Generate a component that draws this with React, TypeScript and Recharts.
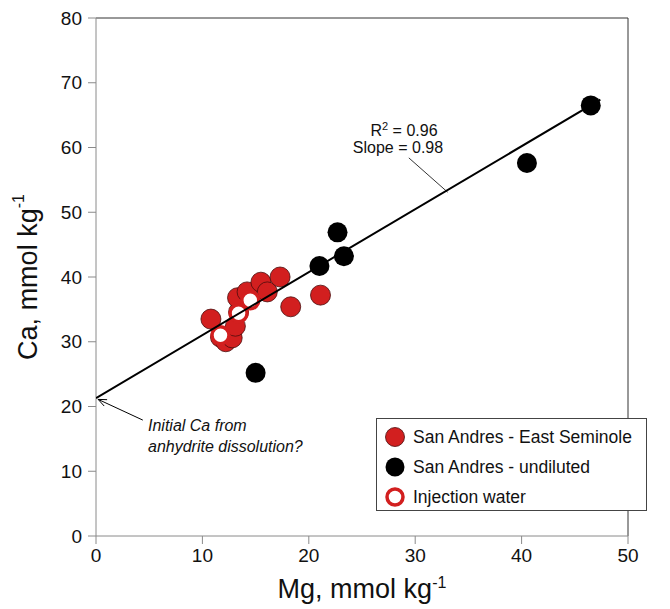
import React from 'react';
import { ScatterChart, Scatter, XAxis, YAxis, ReferenceLine } from 'recharts';

// Mg / Ca, mmol kg-1
const eastSeminoleMg = [10.8, 11.7, 12.2, 12.8, 13.1, 13.4, 13.3, 14.2, 15.5, 16.1, 17.3, 18.3, 21.1];
const eastSeminoleCa = [33.5, 30.7, 30.0, 30.6, 32.4, 34.6, 36.8, 37.7, 39.2, 37.7, 40.0, 35.4, 37.2];

const undilutedMg = [46.5, 40.5, 22.7, 23.3, 21.0, 15.0];
const undilutedCa = [66.5, 57.6, 46.9, 43.2, 41.7, 25.2];

const injectionMg = [11.7, 13.4, 14.5];
const injectionCa = [31.0, 34.4, 36.4];

const fitMg = [0, 47.4];
const fitCa = [21.3, 67.4];

const xTicks = [0, 10, 20, 30, 40, 50];
const yTicks = [0, 10, 20, 30, 40, 50, 60, 70, 80];

const legendLabels = ['San Andres - East Seminole', 'San Andres - undiluted', 'Injection water'];

const zip = (xs: number[], ys: number[]) => xs.map((x, i) => ({ x, y: ys[i] }));

const eastSeminole = zip(eastSeminoleMg, eastSeminoleCa);
const undiluted = zip(undilutedMg, undilutedCa);
const injection = zip(injectionMg, injectionCa);
const fit = zip(fitMg, fitCa);

const RED = '#d21f1f';
const FONT = '"Liberation Sans", Arial, sans-serif';

const redDot = (p: any) => <circle cx={p.cx} cy={p.cy} r={10} fill={RED} stroke="#4a0c0c" strokeWidth={0.8} />;
const blackDot = (p: any) => <circle cx={p.cx} cy={p.cy} r={10} fill="#000" />;
const ringDot = (p: any) => <circle cx={p.cx} cy={p.cy} r={8.5} fill="#fff" stroke={RED} strokeWidth={3.5} />;
const noDot = () => <g />;

const arrowShape = (p: any) => {
  const { x1, y1, x2, y2 } = p;
  const a = Math.atan2(y2 - y1, x2 - x1);
  const L = 9;
  const s = 0.4;
  return (
    <g>
      <line x1={x1} y1={y1} x2={x2} y2={y2} stroke="#000" strokeWidth={1} />
      <polyline
        points={`${x2 - L * Math.cos(a - s)},${y2 - L * Math.sin(a - s)} ${x2},${y2} ${x2 - L * Math.cos(a + s)},${y2 - L * Math.sin(a + s)}`}
        fill="none"
        stroke="#000"
        strokeWidth={1}
      />
    </g>
  );
};

const yLabel = (p: any) => {
  const { viewBox } = p;
  const cx = 28;
  const cy = viewBox.y + viewBox.height / 2;
  return (
    <text x={cx} y={cy} transform={`rotate(-90 ${cx} ${cy})`} textAnchor="middle" dominantBaseline="central" fontSize={27} fill="#111" fontFamily={FONT}>
      Ca, mmol kg<tspan dy={-10} fontSize={16}>-1</tspan>
    </text>
  );
};

const xLabel = (p: any) => {
  const { viewBox } = p;
  const cx = viewBox.x + viewBox.width / 2;
  return (
    <text x={cx} y={598} textAnchor="middle" fontSize={27} fill="#111" fontFamily={FONT}>
      Mg, mmol kg<tspan dy={-10} fontSize={16}>-1</tspan>
    </text>
  );
};

const tickStyle = { fontSize: 19, fill: '#111', fontFamily: FONT };

export default function App() {
  return (
    <div style={{ position: 'absolute', left: 0, top: 0, width: 670, height: 609, background: '#fff', fontFamily: FONT }}>
      <ScatterChart width={670} height={609} margin={{ top: 18, right: 42, bottom: 13, left: 36 }}>
        <XAxis
          type="number"
          dataKey="x"
          domain={[0, 50]}
          ticks={xTicks}
          allowDataOverflow
          height={60}
          tickSize={8}
          tickMargin={5}
          tick={tickStyle}
          axisLine={{ stroke: '#8a8a8a' }}
          tickLine={{ stroke: '#8a8a8a' }}
          label={xLabel}
        />
        <YAxis
          type="number"
          dataKey="y"
          domain={[0, 80]}
          ticks={yTicks}
          allowDataOverflow
          width={60}
          tickSize={8}
          tickMargin={6}
          tick={tickStyle}
          axisLine={{ stroke: '#8a8a8a' }}
          tickLine={{ stroke: '#8a8a8a' }}
          label={yLabel}
        />
        <ReferenceLine y={80} stroke="#333" strokeWidth={1} />
        <ReferenceLine x={50} stroke="#333" strokeWidth={1} />
        <ReferenceLine segment={[{ x: 29.4, y: 58.4 }, { x: 33.05, y: 53.1 }]} stroke="#000" strokeWidth={0.8} />
        <ReferenceLine segment={[{ x: 4.4, y: 17.9 }, { x: 0.2, y: 21.1 }]} shape={arrowShape} />
        <Scatter data={eastSeminole} shape={redDot} isAnimationActive={false} />
        <Scatter data={injection} shape={ringDot} isAnimationActive={false} />
        <Scatter data={undiluted} shape={blackDot} isAnimationActive={false} />
        <Scatter data={fit} shape={noDot} line={{ stroke: '#000', strokeWidth: 2 }} lineType="joint" isAnimationActive={false} />
      </ScatterChart>

      <svg width={670} height={609} style={{ position: 'absolute', left: 0, top: 0, pointerEvents: 'none' }}>
        <g fontFamily={FONT} fill="#111" fontSize={16} textAnchor="middle">
          <text x={404} y={136}>
            R<tspan dy={-6} fontSize={11}>2</tspan><tspan dy={6}> = 0.96</tspan>
          </text>
          <text x={398} y={153}>Slope = 0.98</text>
        </g>
        <g fontFamily={FONT} fill="#111" fontSize={16} fontStyle="italic">
          <text x={148} y={431}>Initial Ca from</text>
          <text x={148} y={452}>anhydrite dissolution?</text>
        </g>
        <g fontFamily={FONT}>
          <rect x={376.5} y={418.5} width={270} height={92} fill="#fff" stroke="#444" strokeWidth={1} />
          <circle cx={395} cy={437} r={9.5} fill={RED} stroke="#4a0c0c" strokeWidth={0.8} />
          <circle cx={395} cy={467} r={9.5} fill="#000" />
          <circle cx={395} cy={497} r={8} fill="#fff" stroke={RED} strokeWidth={3.5} />
          {legendLabels.map((t, i) => (
            <text key={t} x={413} y={437 + i * 30} dominantBaseline="central" fontSize={17.5} fill="#111">
              {t}
            </text>
          ))}
        </g>
      </svg>
    </div>
  );
}
